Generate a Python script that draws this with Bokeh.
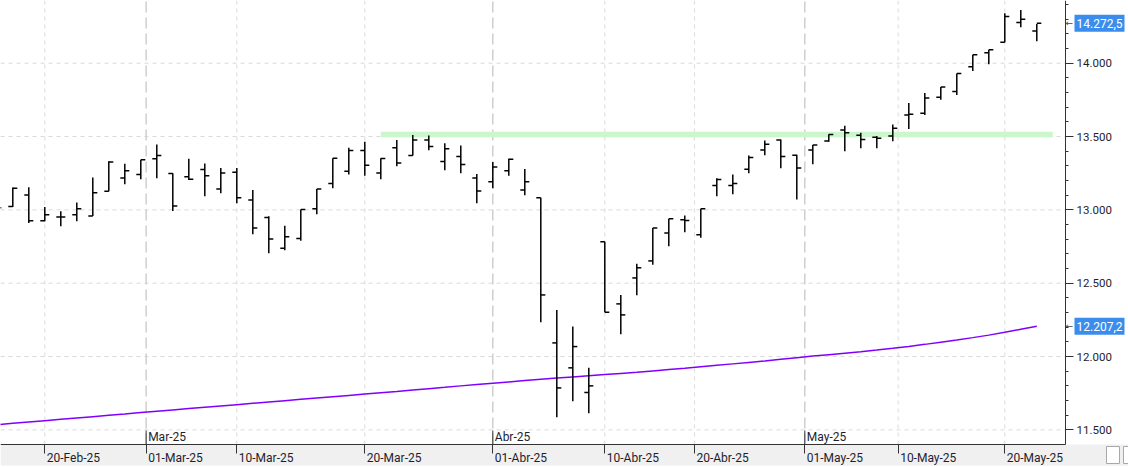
import datetime as dt
from bokeh.plotting import figure
from bokeh.models import (ColumnDataSource, FixedTicker, CustomJSTickFormatter,
                          Range1d, LinearAxis)
from bokeh.core.properties import value
from bokeh.embed import file_html
from bokeh.resources import INLINE

# ---------------- data ----------------
dates = ["2025-02-17", "2025-02-18", "2025-02-19", "2025-02-20", "2025-02-21",
         "2025-02-24", "2025-02-25", "2025-02-26", "2025-02-27", "2025-02-28",
         "2025-03-03", "2025-03-04", "2025-03-05", "2025-03-06", "2025-03-07",
         "2025-03-10", "2025-03-11", "2025-03-12", "2025-03-13", "2025-03-14",
         "2025-03-17", "2025-03-18", "2025-03-19", "2025-03-20", "2025-03-21",
         "2025-03-24", "2025-03-25", "2025-03-26", "2025-03-27", "2025-03-28",
         "2025-03-31", "2025-04-01", "2025-04-02", "2025-04-03", "2025-04-04",
         "2025-04-07", "2025-04-08", "2025-04-09", "2025-04-10", "2025-04-11",
         "2025-04-14", "2025-04-15", "2025-04-16", "2025-04-17", "2025-04-22",
         "2025-04-23", "2025-04-24", "2025-04-25", "2025-04-28", "2025-04-29",
         "2025-04-30", "2025-05-02", "2025-05-05", "2025-05-06", "2025-05-07",
         "2025-05-08", "2025-05-09", "2025-05-12", "2025-05-13", "2025-05-14",
         "2025-05-15", "2025-05-16", "2025-05-19", "2025-05-20", "2025-05-21",
         "2025-05-22"]

opens = [13050, 13023, 13102, 12925, 12952, 12966, 12959, 13127, 13218, 13241,
         13348, 13248, 13225, 13275, 13143, 13257, 13068, 12948, 12739, 12804,
         13007, 13179, 13264, 13404, 13252, 13423, 13370, 13477, 13329, 13364,
         13218, 13191, 13266, 13136, 13082, 12093, 11923, 11755, 12782, 12359,
         12536, 12652, 12843, 12932, 12830, 13166, 13166, 13277, 13409, 13477,
         13373, 13409, 13470, 13545, 13509, 13495, 13504, 13647, 13659, 13768,
         13807, 13975, 14072, 14143, 14277, 14220]
highs = [13080, 13152, 13155, 13020, 12991, 13050, 13220, 13332, 13314, 13341,
         13445, 13250, 13348, 13316, 13286, 13286, 13136, 12957, 12891, 13002,
         13143, 13352, 13423, 13464, 13352, 13477, 13511, 13507, 13454, 13439,
         13245, 13327, 13348, 13279, 13082, 12318, 12205, 11923, 12782, 12420,
         12632, 12877, 12939, 12962, 13007, 13216, 13241, 13370, 13473, 13479,
         13375, 13443, 13516, 13573, 13525, 13504, 13582, 13729, 13797, 13838,
         13929, 14057, 14091, 14341, 14363, 14268]
lows = [12990, 13020, 12911, 12922, 12889, 12923, 12959, 13127, 13175, 13209,
        13216, 12993, 13204, 13093, 13114, 13045, 12834, 12704, 12725, 12789,
        12970, 13148, 13241, 13232, 13209, 13298, 13370, 13407, 13270, 13250,
        13045, 13148, 13232, 13100, 12234, 11586, 11695, 11614, 12302, 12152,
        12418, 12625, 12752, 12848, 12810, 13093, 13107, 13250, 13373, 13284,
        13070, 13311, 13464, 13400, 13420, 13420, 13468, 13552, 13647, 13750,
        13784, 13947, 13993, 14143, 14245, 14150]
closes = [13014, 13148, 12925, 12966, 12952, 13007, 13116, 13327, 13266, 13341,
          13370, 13027, 13209, 13232, 13252, 13082, 12877, 12802, 12816, 13002,
          13143, 13352, 13404, 13304, 13350, 13320, 13477, 13432, 13416, 13309,
          13129, 13293, 13345, 13191, 12420, 11786, 12068, 11800, 12302, 12284,
          12605, 12877, 12939, 12928, 13007, 13207, 13179, 13357, 13448, 13364,
          13286, 13443, 13514, 13525, 13479, 13489, 13556, 13652, 13763, 13838,
          13929, 14057, 14091, 14318, 14300, 14272.5]
ma200 = [11535, 11545, 11554, 11563, 11572, 11581, 11590, 11599, 11608, 11618,
         11627, 11636, 11645, 11654, 11663, 11672, 11681, 11690, 11699, 11708,
         11717, 11726, 11735, 11744, 11753, 11762, 11772, 11781, 11790, 11800,
         11809, 11818, 11827, 11836, 11845, 11853, 11861, 11869, 11877, 11885,
         11893, 11902, 11911, 11920, 11930, 11940, 11950, 11960, 11970, 11981,
         11992, 12003, 12013, 12023, 12033, 12044, 12056, 12069, 12083, 12098,
         12113, 12129, 12146, 12165, 12186, 12207.2]

tick_dates = ["2025-02-20", "2025-03-01", "2025-03-10", "2025-03-20", "2025-04-01",
              "2025-04-10", "2025-04-20", "2025-05-01", "2025-05-10", "2025-05-20"]
tick_labels = ["20-Feb-25", "01-Mar-25", "10-Mar-25", "20-Mar-25", "01-Abr-25",
               "10-Abr-25", "20-Abr-25", "01-May-25", "10-May-25", "20-May-25"]
month_dates = ["2025-03-01", "2025-04-01", "2025-05-01"]
month_labels = ["Mar-25", "Abr-25", "May-25"]
band_start = "2025-03-21"
band_low, band_high = 13495, 13533
y_ticks = [11500, 12000, 12500, 13000, 13500, 14000]
y_minor = list(range(11500, 14500, 100))

# ---------------- helpers ----------------
d = [dt.date.fromisoformat(s) for s in dates]


def pos(s):
    t = dt.date.fromisoformat(s)
    for i in range(len(d) - 1):
        if d[i] <= t <= d[i + 1]:
            return i + (t - d[i]).days / (d[i + 1] - d[i]).days
    return float(len(d) - 1)


def es(v, dec=0):
    s = f"{v:,.{dec}f}"
    return s.replace(",", "X").replace(".", ",").replace("X", ".")


idx = list(range(len(dates)))
tick_pos = [pos(s) for s in tick_dates]
month_pos = [pos(s) for s in month_dates]
minor_pos = [t for t, s in zip(tick_pos, tick_dates) if s not in month_dates]

# canvas / scale geometry (screen pixels -> data)
W, H = 1128, 467
AX_X, AX_Y = 1065, 444          # y-axis line x, x-axis line y (pixels)
BAR_PX = 16.0                   # pixel pitch of one trading day
Y_TOP, Y_AX = 14427.5, 11400.3  # values at top edge and at the x-axis line
ypp = (Y_TOP - Y_AX) / AX_Y
xpp = 1.0 / BAR_PX
X_LEFT = 3.7 / BAR_PX


def xpx(px):
    return X_LEFT + px * xpp


def ypx(px):
    return Y_TOP - px * ypp


FONT = "Roboto"
TXT = "#1e1e2e"

p = figure(frame_width=W, frame_height=H, x_range=Range1d(xpx(0), xpx(W)),
           y_range=Range1d(ypx(H), ypx(0)), output_backend="svg",
           toolbar_location=None, x_axis_location=None, y_axis_location=None,
           min_border=0, background_fill_color="white", border_fill_color="white")
p.outline_line_color = None
p.grid.visible = False

# bottom grey band (date strip)
p.quad(left=[xpx(0)], right=[xpx(W)], bottom=[ypx(465)], top=[ypx(AX_Y)],
       fill_color="#f0f0f0", line_color=None)

# horizontal grid
p.segment(x0=[xpx(0)] * len(y_ticks), y0=y_ticks, x1=[xpx(AX_X)] * len(y_ticks), y1=y_ticks,
          line_color="#d9d9d9", line_dash="4 4", line_width=1)
# vertical grid
p.segment(x0=minor_pos, y0=[Y_AX] * len(minor_pos), x1=minor_pos, y1=[Y_TOP] * len(minor_pos),
          line_color="#dadada", line_dash="4 4", line_width=1)
p.segment(x0=month_pos, y0=[Y_AX] * len(month_pos), x1=month_pos, y1=[Y_TOP] * len(month_pos),
          line_color="#c8c8c8", line_dash="11 5", line_width=1.3)
p.segment(x0=month_pos, y0=[Y_AX] * len(month_pos), x1=month_pos,
          y1=[ypx(430)] * len(month_pos), line_color="#333333", line_width=1)

# resistance band
p.quad(left=[pos(band_start)], right=[len(dates)], bottom=[band_low], top=[band_high],
       fill_color="#ccf7cc", line_color=None)

# moving average
p.line(idx, ma200, line_color="#8000ff", line_width=1.5)

# OHLC bars
tk = 4.5 * xpp
src = ColumnDataSource(dict(x=idx, o=opens, h=highs, l=lows, c=closes,
                            xl=[i - tk for i in idx], xr=[i + tk for i in idx]))
p.segment(x0="x", y0="l", x1="x", y1="h", source=src, line_color="black", line_width=1.5)
p.segment(x0="xl", y0="o", x1="x", y1="o", source=src, line_color="black", line_width=1.5)
p.segment(x0="x", y0="c", x1="xr", y1="c", source=src, line_color="black", line_width=1.5)

# month labels
p.text(x=month_pos, y=[ypx(436)] * len(month_pos), text=month_labels,
       x_offset=2, text_font=value(FONT), text_font_size="12px",
       text_color=TXT, text_baseline="middle", text_align="left")

# date labels (left aligned at their tick)
p.text(x=tick_pos, y=[ypx(457)] * len(tick_pos), text=tick_labels,
       x_offset=2, text_font=value(FONT), text_font_size="12px",
       text_color=TXT, text_baseline="middle", text_align="left")

# date strip is cut at the price-axis column
p.quad(left=[xpx(AX_X - 2)], right=[xpx(W)], bottom=[ypx(465)], top=[ypx(AX_Y + 1)],
       fill_color="#f0f0f0", line_color=None)
# small buttons at bottom right
p.quad(left=[xpx(1106), xpx(1123)], right=[xpx(1119), xpx(1136)],
       bottom=[ypx(463)] * 2, top=[ypx(446)] * 2,
       fill_color="white", line_color="#a8a8a8", line_width=1)

# y axis (right side, fixed at the frame edge)
ya = LinearAxis(fixed_location=xpx(AX_X), bounds=(Y_AX, Y_TOP))
ya.ticker = FixedTicker(ticks=y_ticks, minor_ticks=y_minor)
ya.formatter = CustomJSTickFormatter(code="""
const s = Math.round(tick).toString();
return s.replace(/\\B(?=(\\d{3})+(?!\\d))/g, ".");
""")
ya.axis_line_color = "#333333"
ya.major_tick_line_color = "#333333"
ya.minor_tick_line_color = "#333333"
ya.major_tick_out = 8
ya.major_tick_in = 0
ya.minor_tick_out = 3
ya.minor_tick_in = 0
ya.major_label_standoff = 3
ya.major_label_text_font = FONT
ya.major_label_text_font_size = "11.5px"
ya.major_label_text_color = TXT
p.add_layout(ya, "right")

# x axis (ticks only; labels drawn as text above)
xa = LinearAxis(fixed_location=Y_AX, bounds=(xpx(0), xpx(AX_X)))
xa.ticker = FixedTicker(ticks=tick_pos, minor_ticks=[])
xa.formatter = CustomJSTickFormatter(code="return '';")
xa.axis_line_color = "#333333"
xa.major_tick_line_color = "#333333"
xa.major_tick_out = 9
xa.major_tick_in = 0
xa.major_label_text_font_size = "1px"
p.add_layout(xa, "below")

# value labels on the right (last close, last MA)
vals = [closes[-1], ma200[-1]]
vtxt = [es(v, 1) for v in vals]
half = 8.5 * ypp
p.quad(left=[xpx(1074)] * 2, right=[xpx(1124)] * 2,
       bottom=[v - half for v in vals], top=[v + half for v in vals],
       fill_color="#3b8ded", line_color=None)
p.text(x=[xpx(1076)] * 2, y=vals, text=vtxt, text_font=value(FONT),
       text_font_size="12px", text_color="white", text_baseline="middle",
       text_align="left")
p.text(x=[xpx(1065)] * 2, y=vals, text=["←"] * 2, text_font=value("DejaVu Sans"),
       text_font_size="9px", text_color="#444444", text_baseline="middle",
       text_align="left")

open("out.html", "w").write(file_html(p, INLINE))
